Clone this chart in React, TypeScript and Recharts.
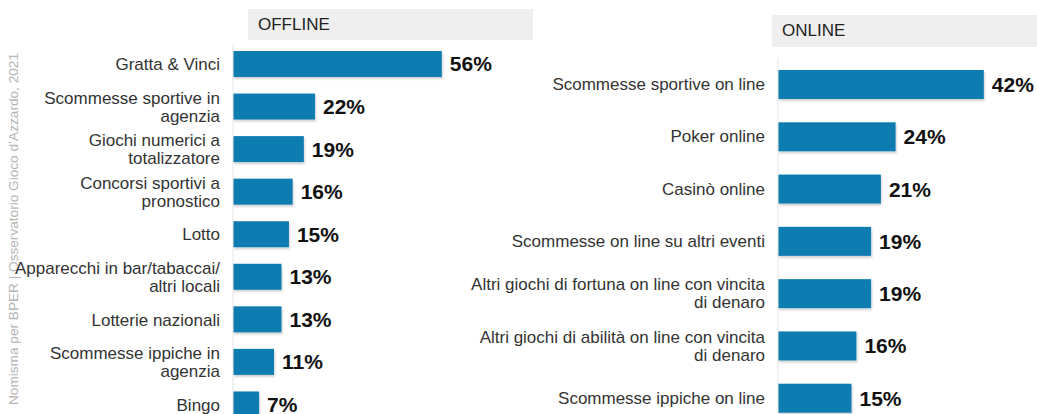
import { BarChart, Bar, XAxis, YAxis, LabelList } from 'recharts'

const offlineCategories = [
  'Gratta & Vinci',
  'Scommesse sportive in\nagenzia',
  'Giochi numerici a\ntotalizzatore',
  'Concorsi sportivi a\npronostico',
  'Lotto',
  'Apparecchi in bar/tabaccai/\naltri locali',
  'Lotterie nazionali',
  'Scommesse ippiche in\nagenzia',
  'Bingo',
]
const offlineValues = [56, 22, 19, 16, 15, 13, 13, 11, 7]

const onlineCategories = [
  'Scommesse sportive on line',
  'Poker online',
  'Casinò online',
  'Scommesse on line su altri eventi',
  'Altri giochi di fortuna on line con vincita\ndi denaro',
  'Altri giochi di abilità on line con vincita\ndi denaro',
  'Scommesse ippiche on line',
]
const onlineValues = [42, 24, 21, 19, 19, 16, 15]

const SOURCE = 'Nomisma per BPER | Osservatorio Gioco d’Azzardo, 2021'

const BLUE = '#0e7bb0'
const FONT = '"Liberation Sans", Arial, sans-serif'

const offlineData = offlineCategories.map((name, i) => ({ name, value: offlineValues[i] }))
const onlineData = onlineCategories.map((name, i) => ({ name, value: onlineValues[i] }))

function CatTick({ x, y, payload }: { x?: number; y?: number; payload?: { value: string } }) {
  const lines = String(payload?.value ?? '').split('\n')
  const lh = 18
  const y0 = (y ?? 0) - ((lines.length - 1) * lh) / 2
  return (
    <text x={x} y={y0} textAnchor="end" fill="#333" fontSize={17} fontFamily={FONT}>
      {lines.map((l, i) => (
        <tspan key={i} x={x} y={y0 + i * lh} dy="0.35em">
          {l}
        </tspan>
      ))}
    </text>
  )
}

// barra con leggera ombra sotto
function ShadowBar(props: any) {
  const { x, y, width, height } = props
  return <rect x={x} y={y} width={width} height={height} fill={BLUE} filter="url(#barShadow)" />
}

function Panel({
  data, max, width, height, axisWidth, barSize, right,
}: {
  data: { name: string; value: number }[]
  max: number
  width: number
  height: number
  axisWidth: number
  barSize: number
  right: number
}) {
  return (
    <BarChart
      width={width}
      height={height}
      data={data}
      layout="vertical"
      margin={{ top: 0, right, bottom: 0, left: 0 }}
      barCategoryGap={0}
    >
      <defs>
        <filter id="barShadow" x="-5%" y="-10%" width="110%" height="140%">
          <feDropShadow dx="1" dy="2" stdDeviation="1" floodColor="#000" floodOpacity="0.18" />
        </filter>
      </defs>
      <XAxis type="number" domain={[0, max]} hide />
      <YAxis
        type="category"
        dataKey="name"
        width={axisWidth}
        tickSize={0}
        tickMargin={13}
        axisLine={{ stroke: '#e6e6e6' }}
        tick={<CatTick />}
        interval={0}
      />
      <Bar dataKey="value" barSize={barSize} shape={<ShadowBar />} isAnimationActive={false}>
        <LabelList
          dataKey="value"
          position="right"
          offset={8}
          formatter={(v: number) => `${v}%`}
          style={{ fontSize: 21, fontWeight: 700, fill: '#111', fontFamily: FONT }}
        />
      </Bar>
    </BarChart>
  )
}

export default function App() {
  return (
    <div
      style={{
        position: 'absolute',
        left: 0,
        top: 0,
        width: 1037,
        height: 414,
        overflow: 'hidden',
        background: '#fff',
        fontFamily: FONT,
      }}
    >
      {/* fonte verticale */}
      <svg width={30} height={414} style={{ position: 'absolute', left: 0, top: 0 }}>
        <text
          transform="rotate(-90)"
          x={-405}
          y={18}
          fontSize={12}
          fill="#b5b5b5"
          fontFamily={FONT}
          textLength={352}
          lengthAdjust="spacingAndGlyphs"
        >
          {SOURCE}
        </text>
      </svg>

      {/* intestazioni */}
      <div
        style={{
          position: 'absolute', left: 248, top: 9, width: 285, height: 31,
          background: '#efefef', color: '#222', fontSize: 17, lineHeight: '31px',
          paddingLeft: 10, boxSizing: 'border-box',
        }}
      >
        OFFLINE
      </div>
      <div
        style={{
          position: 'absolute', left: 772, top: 15, width: 265, height: 32,
          background: '#efefef', color: '#222', fontSize: 17, lineHeight: '32px',
          paddingLeft: 10, boxSizing: 'border-box',
        }}
      >
        ONLINE
      </div>

      <div style={{ position: 'absolute', left: 0, top: 43 }}>
        <Panel data={offlineData} max={70} width={540} height={383} axisWidth={233} barSize={26} right={46} />
      </div>
      <div style={{ position: 'absolute', left: 450, top: 58 }}>
        <Panel data={onlineData} max={50} width={587} height={366} axisWidth={328} barSize={29} right={14} />
      </div>
    </div>
  )
}
